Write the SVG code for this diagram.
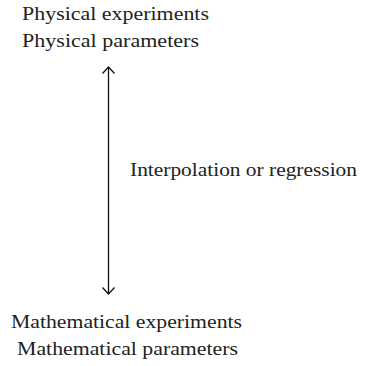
<svg xmlns="http://www.w3.org/2000/svg" width="367" height="366" viewBox="0 0 367 366">
<defs>
<style>
text{font-family:"Liberation Serif","Times New Roman",serif;font-size:19.5px;fill:#222}
.c{fill:none;stroke:#111;stroke-width:1.3}
</style>
</defs>
<rect width="367" height="366" fill="#fff"/>
<g id="physical">
<text x="22" y="20" textLength="187" lengthAdjust="spacingAndGlyphs">Physical experiments</text>
<text x="22" y="47" textLength="177" lengthAdjust="spacingAndGlyphs">Physical parameters</text>
</g>
<g id="mathematical">
<text x="11" y="328" textLength="231" lengthAdjust="spacingAndGlyphs">Mathematical experiments</text>
<text x="17" y="355" textLength="221" lengthAdjust="spacingAndGlyphs">Mathematical parameters</text>
</g>
<g id="connectors">
<line class="c" x1="108.5" y1="67" x2="108.5" y2="294"/>
<polyline class="c" points="102.5,73.5 108.5,67 114.5,73.5"/>
<polyline class="c" points="102.5,287.5 108.5,294 114.5,287.5"/>
<text x="130" y="176" textLength="227" lengthAdjust="spacingAndGlyphs">Interpolation or regression</text>
</g>
</svg>
